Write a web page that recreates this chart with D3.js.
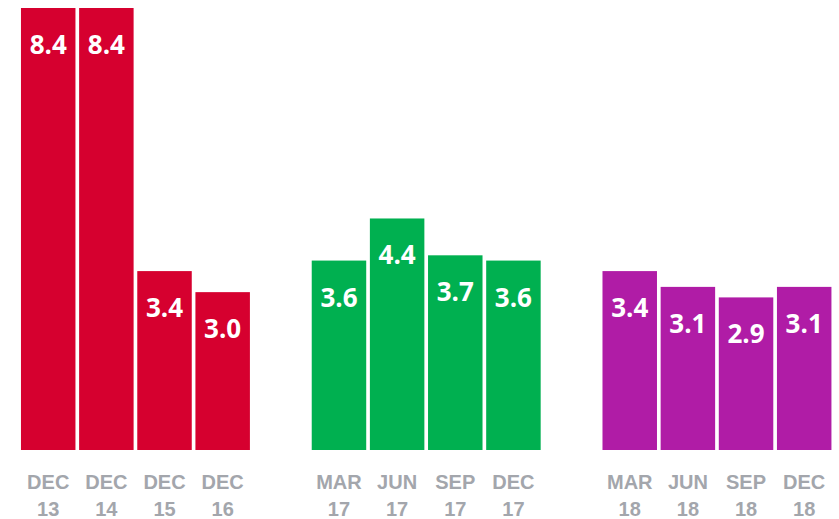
<!DOCTYPE html>
<html>
<head>
<meta charset="utf-8">
<script src="https://cdn.jsdelivr.net/npm/d3@7"></script>
<style>
  body { margin: 0; background: #fff; }
  svg { display: block; font-family: "Open Sans", "Noto Sans", sans-serif; }
  .axis text { fill: #a3a6ac; font-size: 20px; font-weight: 700; }
  .val { fill: #fff; font-size: 26px; font-weight: 700; }
</style>
</head>
<body>
<svg width="839" height="519"></svg>
<script>
// slots on the x axis, empty ones ("gap") leave room between the groups
var slots = ["DEC 13", "DEC 14", "DEC 15", "DEC 16", "gap1",
             "MAR 17", "JUN 17", "SEP 17", "DEC 17", "gap2",
             "MAR 18", "JUN 18", "SEP 18", "DEC 18"];

var periods = ["DEC 13", "DEC 14", "DEC 15", "DEC 16",
               "MAR 17", "JUN 17", "SEP 17", "DEC 17",
               "MAR 18", "JUN 18", "SEP 18", "DEC 18"];
var values = [8.4, 8.4, 3.4, 3.0, 3.6, 4.4, 3.7, 3.6, 3.4, 3.1, 2.9, 3.1];
var groups = ["a", "a", "a", "a", "b", "b", "b", "b", "c", "c", "c", "c"];

var colors = { a: "#d6002f", b: "#00b050", c: "#b01ca6" };

var svg = d3.select("svg");

var x = d3.scaleBand()
  .domain(slots)
  .range([17.3, 835.1])
  .padding(0.063);

var y = d3.scaleLinear()
  .domain([0, 8.4])
  .range([450, 8]);

var data = periods.map(function (p, i) {
  return { period: p, value: values[i], group: groups[i] };
});

// bars
svg.append("g")
  .selectAll("rect")
  .data(data)
  .enter()
  .append("rect")
  .attr("x", function (d) { return x(d.period); })
  .attr("y", function (d) { return y(d.value); })
  .attr("width", x.bandwidth())
  .attr("height", function (d) { return y(0) - y(d.value); })
  .attr("fill", function (d) { return colors[d.group]; });

// value labels inside the top of each bar
svg.append("g")
  .selectAll("text")
  .data(data)
  .enter()
  .append("text")
  .attr("class", "val")
  .attr("x", function (d) { return x(d.period) + x.bandwidth() / 2; })
  .attr("y", function (d) { return y(d.value) + 46; })
  .attr("text-anchor", "middle")
  .text(function (d) { return d3.format(".1f")(d.value); });

// x axis, two line labels
var axis = svg.append("g")
  .attr("class", "axis")
  .attr("transform", "translate(0," + y(0) + ")")
  .call(d3.axisBottom(x).tickValues(periods).tickSize(0).tickPadding(0));

axis.select(".domain").remove();
axis.selectAll(".tick text").each(function (d) {
  var parts = d.split(" ");
  var t = d3.select(this).text(null).attr("dy", null).attr("y", 0);
  t.append("tspan").attr("x", 0).attr("y", 39).text(parts[0]);
  t.append("tspan").attr("x", 0).attr("y", 66).text(parts[1]);
});
</script>
</body>
</html>
